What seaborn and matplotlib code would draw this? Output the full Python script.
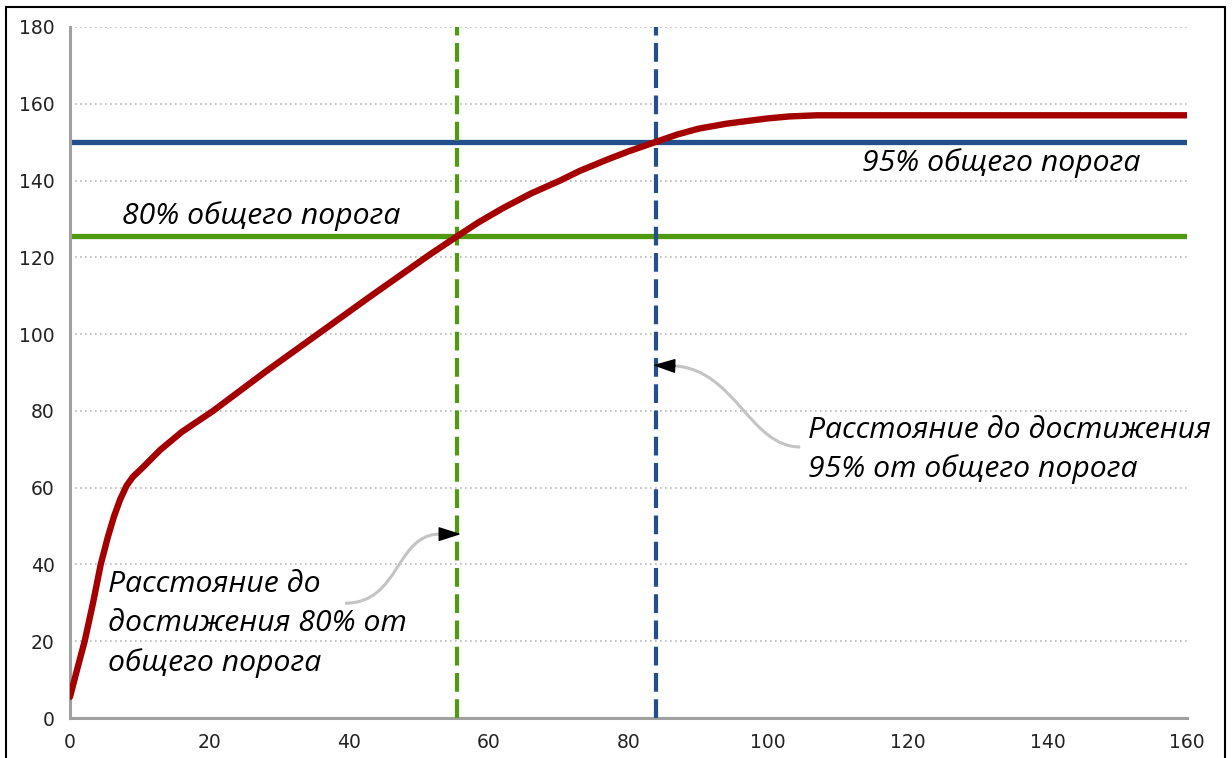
import pandas as pd
import seaborn as sns
import matplotlib.pyplot as plt
from matplotlib.patches import Rectangle, PathPatch
from matplotlib.path import Path

# кривая (расстояние -> значение)
dist = [0, 1.0, 2.1, 3.3, 4.4, 5.4, 6.3, 7.2, 8.1, 9.0, 10.5, 12.9, 16, 20.5, 28,
        35.5, 43, 48, 51.6, 55.3, 58.5, 62, 66, 70.2, 73, 77, 80, 83.8, 87, 90,
        94, 97.4, 100, 103, 107, 120, 140, 160]
value = [5.5, 12.5, 20, 30, 40, 47, 52.5, 57, 60.5, 62.8, 65.4, 69.8, 74.5, 80, 90.2,
         100, 109.8, 116.2, 120.8, 125.3, 129.1, 132.8, 136.6, 140, 142.5, 145.5, 147.6, 150, 152, 153.5,
         154.8, 155.6, 156.2, 156.7, 157, 157, 157, 157]

thr80 = 125.5
thr95 = 150
dist80 = 55.5
dist95 = 84

x_ticks = list(range(0, 161, 20))
y_ticks = list(range(0, 181, 20))

red = '#a50000'
green = '#4f9a0e'
blue = '#23508d'

df = pd.DataFrame({'dist': dist, 'value': value})

sns.set_theme(style="white")
plt.rcParams['font.family'] = ['DejaVu Sans']

fig = plt.figure(figsize=(12.32, 7.58), dpi=100)
ax = fig.add_axes([70 / 1232, 1 - 718 / 758, 1117 / 1232, 691 / 758])

# сетка
for yv in y_ticks[1:]:
    ax.axhline(yv, color='#b8b8b8', lw=1.2, ls=(0, (1, 2)), zorder=0)

# пороги
ax.axhline(thr80, color=green, lw=3.8, zorder=2)
ax.axhline(thr95, color=blue, lw=3.8, zorder=2)
ax.axvline(dist80, color=green, lw=3, dashes=(4.5, 1.8), zorder=3)
ax.axvline(dist95, color=blue, lw=3, dashes=(4.5, 1.8), zorder=3)

sns.lineplot(data=df, x='dist', y='value', color=red, lw=4.6, sort=False,
             estimator=None, ax=ax, zorder=4, solid_capstyle='round',
             solid_joinstyle='round')

ax.set_xlim(0, 160)
ax.set_ylim(0, 180)
ax.set_xticks(x_ticks)
ax.set_yticks(y_ticks)
ax.set_xlabel('')
ax.set_ylabel('')
for s in ['top', 'right']:
    ax.spines[s].set_visible(False)
for s in ['left', 'bottom']:
    ax.spines[s].set_color('#a0a0a0')
    ax.spines[s].set_linewidth(2.2)
ax.tick_params(axis='both', direction='out', length=5, width=1.8, color='#a0a0a0',
               labelsize=13.5, labelcolor='#222222', pad=6)

# подписи
txt = dict(style='italic', family=['Open Sans', 'DejaVu Sans'], fontsize=21.7,
           color='black', zorder=5)
ax.text(113.5, 144.5, '95% общего порога', va='center', **txt)
ax.text(7.4, 130.8, '80% общего порога', va='center', **txt)
ax.text(5.4, 24.5, 'Расстояние до\nдостижения 80% от\nобщего порога', va='center',
        linespacing=1.45, **txt)
ax.text(105.7, 69.8, 'Расстояние до достижения\n95% от общего порога', va='center',
        linespacing=1.42, **txt)

# стрелки
arrow80 = [(39.4, 29.9), (47.3, 29.9), (46.6, 47.9), (53.0, 47.9)]
tip80 = (56.0, 47.9)
arrow95 = [(104.6, 70.6), (97.4, 70.6), (95.3, 90.6), (86.7, 91.7)]
tip95 = (83.5, 91.9)

codes = [Path.MOVETO, Path.CURVE4, Path.CURVE4, Path.CURVE4]
for pts, tip in [(arrow80, tip80), (arrow95, tip95)]:
    ax.add_patch(PathPatch(Path(pts, codes), fc='none', ec='#c4c4c4', lw=2.2, zorder=5))
    ax.annotate('', xy=tip, xytext=pts[-1],
                arrowprops=dict(arrowstyle='-|>,head_length=1.0,head_width=0.32',
                                mutation_scale=14, color='black', lw=1,
                                shrinkA=0, shrinkB=0), zorder=6)

# рамка
fig.patches.append(Rectangle((6 / 1232, -0.1), 1219 / 1232, 1.1 - 7 / 758,
                             transform=fig.transFigure, fill=False, ec='black', lw=1.5))

fig.savefig('out.png', dpi=100)
